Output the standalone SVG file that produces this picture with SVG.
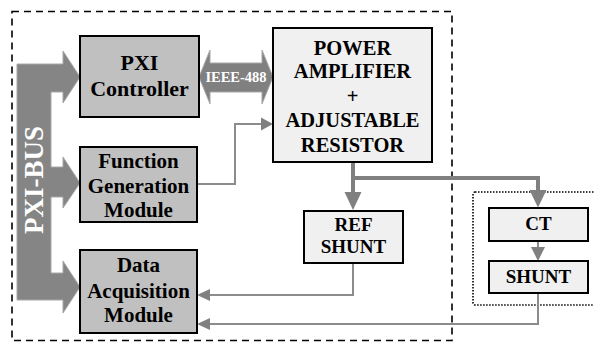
<svg xmlns="http://www.w3.org/2000/svg" width="594" height="342" viewBox="0 0 594 342">
<defs>
<style>
.t{font-family:"Liberation Serif","Times New Roman",serif;font-weight:bold;text-anchor:middle;fill:#000}
.w{fill:#fff}
.dk{fill:#c0c0c0;stroke:#000;stroke-width:2}
.lt{fill:#f0f0f0;stroke:#000;stroke-width:2}
.thick{fill:none;stroke:#808080;stroke-width:4}
.thin{fill:none;stroke:#8c8c8c;stroke-width:2}
.hd{fill:#808080}
</style>
</defs>
<rect width="594" height="342" fill="#fff"/>
<rect x="12" y="11.5" width="440" height="329" fill="none" stroke="#000" stroke-width="1.6" stroke-dasharray="7,5"/>
<rect x="473" y="192" width="130" height="113" rx="2" fill="none" stroke="#000" stroke-width="1.6" stroke-dasharray="1.5,1.5"/>

<g id="pxi-bus">
<path d="M17,64 L63,64 L63,51 L80,77 L63,103 L63,92 L51,92 L51,167 L63,167 L63,157 L80,183 L63,208 L63,197 L51,197 L51,273 L63,273 L63,261 L80,287 L63,313 L63,300 L17,300 Z" fill="#858585" stroke="#a8a8a8" stroke-width="1"/>
<text class="t w" font-size="27" transform="translate(43,180) rotate(-90)">PXI-BUS</text>
</g>

<g id="connectors">
<path d="M199,77 L210,50 L210,63 L262,63 L262,50 L273,77 L262,104 L262,92 L210,92 L210,104 Z" fill="#808080" stroke="#a8a8a8" stroke-width="1"/>
<text class="t w" font-size="14.5" x="236" y="82">IEEE-488</text>
<path class="thin" d="M197,184 L235,184 L235,124 L263,124"/>
<path class="hd" d="M273,124 L261,117.5 L261,130.5 Z"/>
<path class="thick" d="M353,162 L353,196 M353,178 L538,178 L538,194"/>
<path class="hd" d="M344.5,192 L361.5,192 L353,210 Z"/>
<path class="hd" d="M529.5,190 L546.5,190 L538,207.5 Z"/>
<path class="thin" d="M538,241 L538,250"/>
<path class="hd" d="M531,247 L545,247 L538,261 Z"/>
<path class="thin" d="M353,263 L353,295 L207,295"/>
<path class="hd" d="M197,295 L210,289 L210,301 Z"/>
<path class="thin" d="M538,293 L538,324 L207,324"/>
<path class="hd" d="M197,324 L210,318 L210,330 Z"/>
</g>

<g id="pxi-controller">
<rect class="dk" x="80" y="36" width="119" height="81"/>
<text class="t" font-size="22" x="139.5" y="70">PXI</text>
<text class="t" font-size="22" x="139.5" y="96">Controller</text>
</g>

<g id="function-generation">
<rect class="dk" x="80" y="147" width="117" height="75"/>
<text class="t" font-size="21" x="138.5" y="168">Function</text>
<text class="t" font-size="21" x="138.5" y="193">Generation</text>
<text class="t" font-size="21" x="138.5" y="217">Module</text>
</g>

<g id="data-acquisition">
<rect class="dk" x="80" y="250" width="117" height="83"/>
<text class="t" font-size="21" x="138.5" y="272">Data</text>
<text class="t" font-size="21" x="138.5" y="298">Acquisition</text>
<text class="t" font-size="21" x="138.5" y="322">Module</text>
</g>

<g id="power-amplifier">
<rect class="lt" x="273" y="28" width="159" height="134"/>
<text class="t" font-size="20.5" x="352.5" y="55">POWER</text>
<text class="t" font-size="20.5" x="352.5" y="78">AMPLIFIER</text>
<text class="t" font-size="20.5" x="352.5" y="103">+</text>
<text class="t" font-size="20.5" x="352.5" y="127">ADJUSTABLE</text>
<text class="t" font-size="20.5" x="352.5" y="152">RESISTOR</text>
</g>

<g id="ref-shunt">
<rect class="lt" x="304" y="211" width="99" height="52"/>
<text class="t" font-size="19" x="353.5" y="231">REF</text>
<text class="t" font-size="19" x="353.5" y="253">SHUNT</text>
</g>

<g id="ct">
<rect class="lt" x="489" y="208" width="99" height="33"/>
<text class="t" font-size="19" x="538.5" y="230">CT</text>
</g>

<g id="shunt">
<rect class="lt" x="489" y="261" width="99" height="32"/>
<text class="t" font-size="19" x="538.5" y="283">SHUNT</text>
</g>
</svg>
